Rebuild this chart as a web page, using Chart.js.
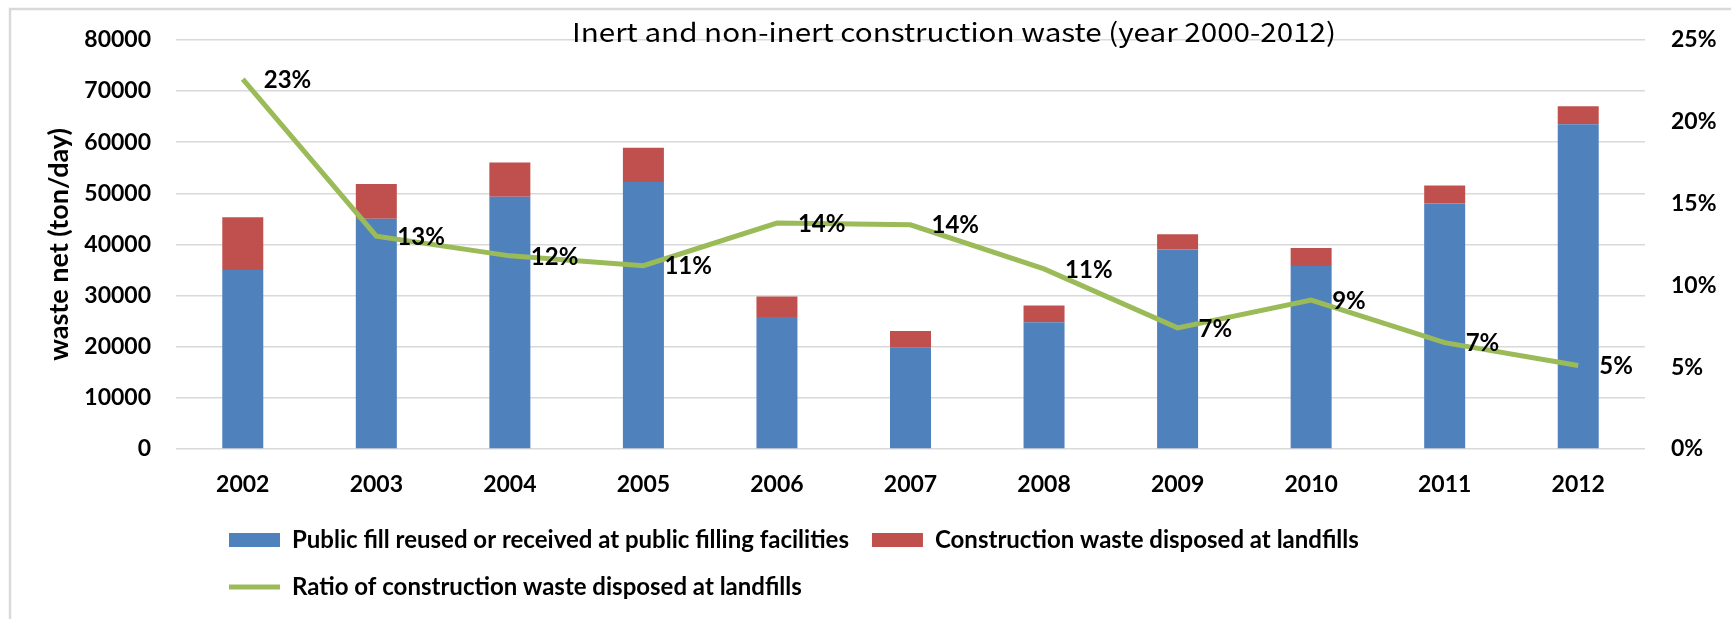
<!DOCTYPE html>
<html>
<head>
<meta charset="utf-8">
<script src="https://cdn.jsdelivr.net/npm/chart.js@4.4.0/dist/chart.umd.min.js"></script>
<style>
  html, body { margin: 0; padding: 0; background: #fff; }
  #wrap { width: 1731px; height: 619px; }
</style>
</head>
<body>
<div id="wrap"><canvas id="myChart" width="1731" height="619"></canvas></div>
<script>
let years = ["2002", "2003", "2004", "2005", "2006", "2007", "2008", "2009", "2010", "2011", "2012"]
let publicFill = [35000, 45000, 49300, 52200, 25800, 19800, 24800, 39000, 35800, 48000, 63500]
let landfill = [10300, 6800, 6700, 6700, 4000, 3250, 3250, 3000, 3500, 3500, 3500]
let ratio = [22.6, 13.0, 11.8, 11.2, 13.8, 13.7, 11.0, 7.4, 9.1, 6.5, 5.1]  // percent
let titleText = "Inert and non-inert construction waste (year 2000-2012)"

let blue = "#4f81bd"
let red = "#c0504d"
let green = "#9bbb59"

// frame, title, point labels and the legend shift
let extras = {
  id: "extras",
  afterLayout(chart) {
    chart.legend.left = 206
  },
  beforeDraw(chart) {
    let ctx = chart.ctx
    ctx.save()
    ctx.strokeStyle = "#d9d9d9"
    ctx.lineWidth = 2.5
    ctx.beginPath()
    ctx.moveTo(10, 700)
    ctx.lineTo(10, 9)
    ctx.lineTo(1800, 9)
    ctx.stroke()
    ctx.restore()
  },
  afterDatasetsDraw(chart) {
    let ctx = chart.ctx
    let meta = chart.getDatasetMeta(2)
    ctx.save()
    ctx.font = "bold 24px Lato"
    ctx.fillStyle = "#000"
    ctx.textBaseline = "middle"
    ctx.textAlign = "left"
    meta.data.forEach((pt, i) => {
      ctx.fillText(Math.round(ratio[i]) + "%", pt.x + 21, pt.y + 1)
    })
    ctx.restore()
  },
  afterDraw(chart) {
    let ctx = chart.ctx
    ctx.save()
    ctx.font = '26px "Noto Sans CJK JP"'
    ctx.fillStyle = "#000"
    ctx.textBaseline = "alphabetic"
    let w = ctx.measureText(titleText).width
    ctx.translate(572, 42)
    ctx.scale(764 / w, 1)
    ctx.fillText(titleText, 0, 0)
    ctx.restore()
  }
}

let tickFont = { family: "Lato", size: 23, weight: "bold" }

myChart = new Chart(document.getElementById("myChart"), {
  type: "bar",
  data: {
    labels: years,
    datasets: [
      {
        label: "Public fill reused or received at public filling facilities",
        data: publicFill,
        backgroundColor: blue,
        borderWidth: 0,
        order: 1,
        yAxisID: "y"
      },
      {
        label: "Construction waste disposed at landfills",
        data: landfill,
        backgroundColor: red,
        borderWidth: 0,
        order: 1,
        yAxisID: "y"
      },
      {
        type: "line",
        label: "Ratio of construction waste disposed at landfills",
        data: ratio,
        borderColor: green,
        backgroundColor: green,
        borderWidth: 5,
        pointRadius: 0,
        tension: 0,
        fill: false,
        order: 0,
        yAxisID: "y1"
      }
    ]
  },
  options: {
    responsive: false,
    devicePixelRatio: 1,
    animation: false,
    color: "#000",
    datasets: {
      bar: { barPercentage: 0.307, categoryPercentage: 1 }
    },
    layout: { padding: { top: 39, left: 0, right: 0, bottom: 10 } },
    plugins: {
      tooltip: { enabled: false },
      title: { display: false },
      legend: {
        position: "bottom",
        align: "start",
        fullSize: false,
        labels: {
          usePointStyle: true,
          pointStyleWidth: 51,
          boxHeight: 14,
          padding: 23,
          color: "#000",
          font: { family: "Lato", size: 24, weight: "bold" },
          sort: (a, b) => a.datasetIndex - b.datasetIndex,
          generateLabels(chart) {
            let items = Chart.defaults.plugins.legend.labels.generateLabels(chart)
            items.forEach(it => {
              it.pointStyle = it.datasetIndex === 2 ? "line" : "rect"
            })
            return items
          }
        }
      }
    },
    scales: {
      x: {
        stacked: true,
        grid: { display: false },
        border: { display: false },
        ticks: { color: "#000", font: tickFont, padding: 14 },
        afterFit(s) { s.height = 56 }
      },
      y: {
        stacked: true,
        min: 0,
        max: 80000,
        ticks: { stepSize: 10000, color: "#000", font: tickFont, padding: 25, callback: v => String(v) },
        grid: { color: "#d9d9d9", lineWidth: 1.5, drawTicks: false },
        border: { display: false },
        title: {
          display: true,
          text: "waste net (ton/day)",
          color: "#000",
          font: { family: "Lato", size: 27, weight: "bold" },
          padding: { top: 43, bottom: 0 }
        },
        afterFit(s) { s.width = 176 }
      },
      y1: {
        position: "right",
        min: 0,
        max: 25,
        ticks: { stepSize: 5, color: "#000", font: tickFont, padding: 26, callback: v => v + "%" },
        grid: { display: false, drawTicks: false },
        border: { display: false },
        afterFit(s) { s.width = 86 }
      }
    }
  },
  plugins: [extras]
})
</script>
</body>
</html>
